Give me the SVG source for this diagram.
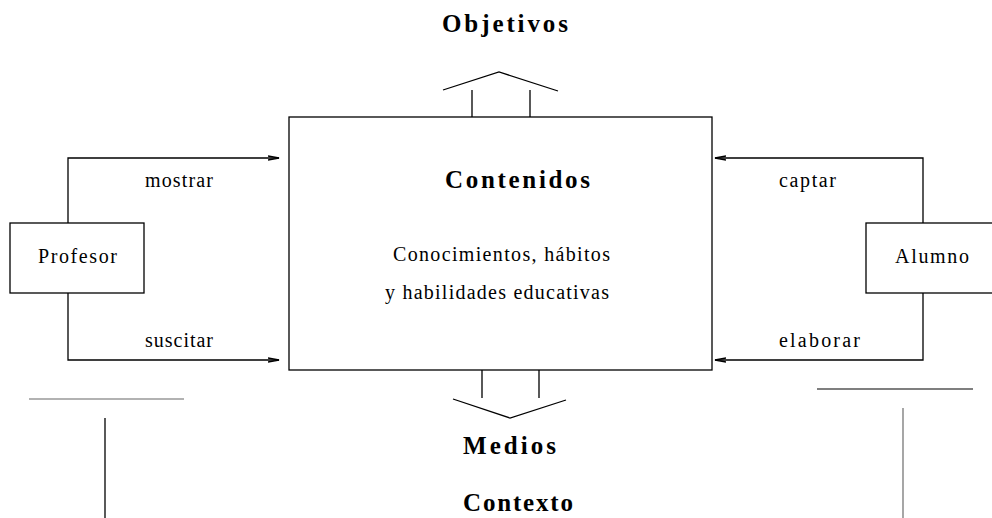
<svg xmlns="http://www.w3.org/2000/svg" width="992" height="518" viewBox="0 0 992 518">
<style>
.t{font-family:"Liberation Serif","Times New Roman",serif;font-size:20px;fill:#000}
.b{font-family:"Liberation Serif","Times New Roman",serif;font-size:25px;font-weight:bold;fill:#000}
.box{fill:#fff;stroke:#000;stroke-width:1.3}
.ln{fill:none;stroke:#000;stroke-width:1.3}
</style>
<defs>
<marker id="ah" markerWidth="12" markerHeight="8" refX="11" refY="4" orient="auto" markerUnits="userSpaceOnUse">
<path d="M0,2 L11,4 L0,6" fill="none" stroke="#000" stroke-width="1.4"/>
</marker>
</defs>
<rect width="992" height="518" fill="#fff"/>
<g id="connectors">
<path class="ln" d="M68,223 V158 H279" marker-end="url(#ah)"/>
<path class="ln" d="M68,293 V360 H279" marker-end="url(#ah)"/>
<path class="ln" d="M923,223 V158 H715" marker-end="url(#ah)"/>
<path class="ln" d="M923,293 V360 H715" marker-end="url(#ah)"/>
<path class="ln" d="M472,117 V90 M530,117 V90 M443,90 L499,72 L558,91"/>
<path class="ln" d="M482,370 V398 M539,370 V398 M453,399 L510,418 L566,400"/>
<text class="t" x="145" y="187" textLength="68" lengthAdjust="spacing">mostrar</text>
<text class="t" x="145" y="347" textLength="68" lengthAdjust="spacing">suscitar</text>
<text class="t" x="779" y="187" textLength="57" lengthAdjust="spacing">captar</text>
<text class="t" x="779" y="347" textLength="81" lengthAdjust="spacing">elaborar</text>
</g>
<g id="contenidos">
<rect class="box" x="289" y="117" width="423" height="253"/>
<text class="b" x="445" y="188" textLength="145" lengthAdjust="spacing">Contenidos</text>
<text class="t" x="393" y="261" textLength="217" lengthAdjust="spacing">Conocimientos, hábitos</text>
<text class="t" x="385" y="299" textLength="224" lengthAdjust="spacing">y habilidades educativas</text>
</g>
<g id="profesor">
<rect class="box" x="10" y="223" width="134" height="70"/>
<text class="t" x="38" y="263" textLength="79" lengthAdjust="spacing">Profesor</text>
</g>
<g id="alumno">
<rect class="box" x="866" y="223" width="130" height="70"/>
<text class="t" x="895" y="263" textLength="74" lengthAdjust="spacing">Alumno</text>
</g>
<g id="objetivos">
<text class="b" x="442" y="32" textLength="126" lengthAdjust="spacing">Objetivos</text>
</g>
<g id="medios">
<text class="b" x="463" y="454" textLength="93" lengthAdjust="spacing">Medios</text>
</g>
<g id="contexto">
<text class="b" x="463" y="511" textLength="110" lengthAdjust="spacing">Contexto</text>
</g>
<g id="decor">
<line x1="29" y1="399" x2="184" y2="399" stroke="#999" stroke-width="1.3"/>
<line x1="105" y1="418" x2="105" y2="518" stroke="#000" stroke-width="1.3"/>
<line x1="817" y1="389" x2="973" y2="389" stroke="#555" stroke-width="1.3"/>
<line x1="903" y1="408" x2="903" y2="518" stroke="#777" stroke-width="1.3"/>
</g>
</svg>
